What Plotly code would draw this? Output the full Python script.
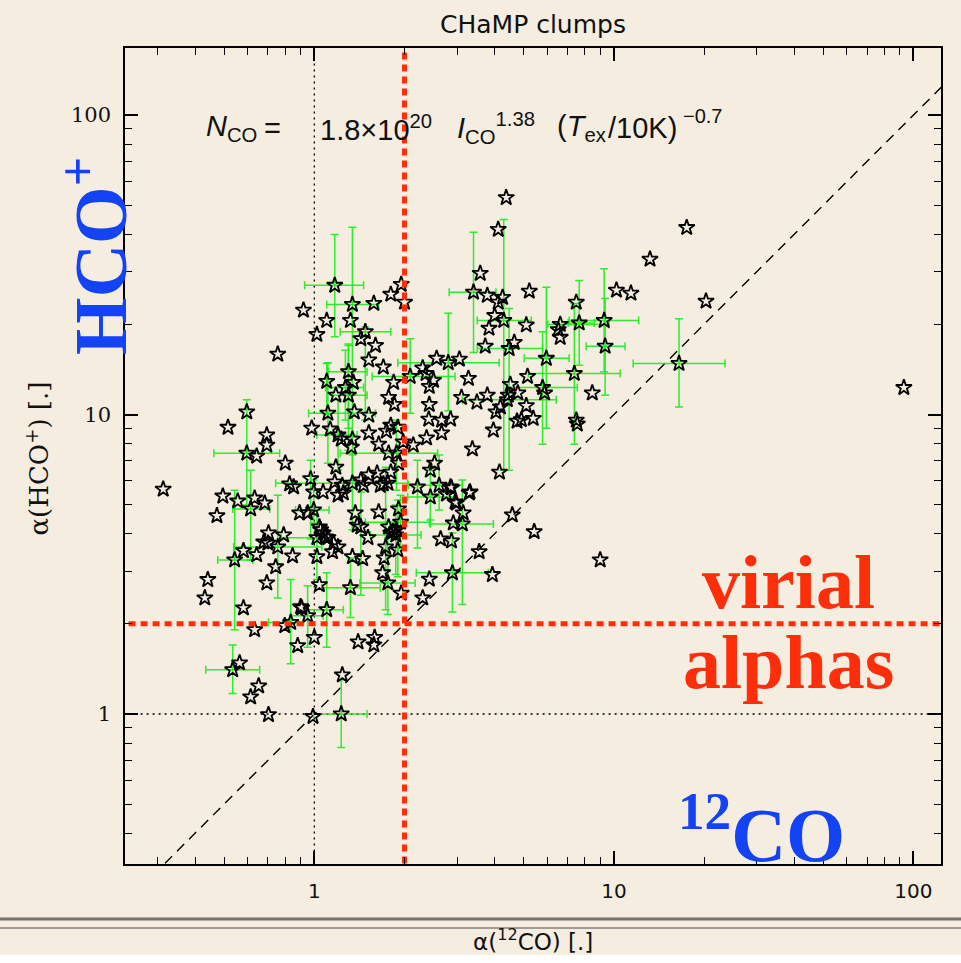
import plotly.graph_objects as go

# ---------------- data ----------------
alpha_12co = [
    4.37, 4.11, 17.5, 13.2, 3.58, 3.40, 3.78, 4.25, 4.11, 5.22, 10.2, 11.4, 20.3, 7.49, 4.00,
    4.29, 3.83, 5.10, 6.62, 6.52, 6.62, 7.66, 9.28, 9.35, 16.5, 4.65, 3.72, 4.47, 5.95, 7.38,
    5.15, 5.78, 5.87, 4.51, 4.78, 4.41, 4.44, 5.10, 3.78, 3.49, 3.10, 3.27, 4.18, 4.04, 4.75,
    4.91, 5.38, 3.96, 7.49, 7.55, 8.47, 3.37, 4.15, 3.29, 2.56, 2.80, 3.05, 1.70, 2.09, 2.30,
    2.36, 2.50, 2.42, 1.84, 2.42, 1.77, 1.85, 2.41, 2.66, 2.85, 1.80, 1.90, 2.66, 2.37, 2.14,
    1.98, 1.77, 1.88, 1.91, 1.80, 2.52, 2.44, 1.70, 2.21, 2.61, 2.85, 2.76, 2.44, 92.9, 1.17,
    1.34, 1.58, 1.80, 1.95, 2.00, 0.92, 1.10, 1.32, 1.02, 1.48, 1.43, 1.60, 0.755, 1.52, 1.30,
    1.10, 1.27, 1.35, 1.18, 1.30, 0.595, 1.11, 1.36, 1.52, 0.515, 0.98, 1.13, 1.20, 1.23, 1.34,
    1.33, 1.52, 0.694, 0.694, 0.595, 0.642, 0.80, 1.18, 1.74, 1.64, 0.313, 0.827, 0.853, 0.972, 0.995,
    1.07, 1.17, 1.24, 1.34, 1.43, 1.52, 1.62, 1.66, 1.76, 1.46, 1.25, 1.20, 0.495, 0.555, 0.632,
    0.683, 0.473, 0.613, 0.542, 0.755, 0.703, 0.79, 0.678, 0.70, 0.58, 0.642, 0.846, 0.743, 0.893, 0.95,
    0.995, 1.04, 1.07, 1.02, 1.11, 1.16, 1.20, 1.15, 1.02, 1.34, 1.45, 0.441, 0.431, 0.694, 1.04,
    1.32, 1.76, 1.95, 0.58, 0.907, 0.95, 1.10, 0.834, 0.797, 0.632, 1.00, 0.88, 1.40, 1.59, 1.58,
    0.534, 0.563, 0.652, 0.613, 0.703, 0.99, 1.23, 1.24, 2.98, 3.14, 2.87, 2.91, 3.12, 2.64, 2.87,
    4.58, 5.42, 9.00, 3.55, 2.89, 3.93, 2.42, 2.30, 1.91, 1.94, 1.88, 1.80, 1.73, 1.90, 1.71,
    1.69, 1.05, 1.09, 1.39, 1.43, 1.77, 1.83, 1.87, 1.51, 0.90, 1.37, 1.64, 3.31, 2.95,
]
alpha_hco = [
    53.0, 41.5, 42.1, 33.0, 29.6, 25.6, 25.0, 24.6, 23.7, 25.8, 26.0, 25.4, 23.9, 23.7, 21.4,
    20.6, 19.4, 19.9, 20.0, 19.2, 18.1, 20.2, 20.6, 16.9, 14.8, 17.4, 16.9, 16.6, 15.4, 13.7,
    13.4, 12.3, 11.8, 12.6, 11.8, 11.2, 11.6, 10.7, 11.6, 11.0, 11.4, 13.2, 10.6, 10.2, 9.50,
    9.60, 9.70, 8.87, 9.57, 9.29, 11.8, 7.67, 6.42, 5.47, 15.4, 14.9, 15.3, 14.4, 13.4, 14.3,
    13.7, 13.0, 12.4, 12.8, 10.8, 11.4, 10.8, 9.65, 9.57, 9.65, 9.20, 9.06, 8.68, 8.35, 7.90,
    8.10, 7.43, 7.43, 6.88, 6.42, 6.88, 6.52, 5.86, 5.73, 5.80, 5.73, 5.42, 5.30, 12.3, 27.0,
    23.3, 23.5, 25.2, 27.2, 23.7, 22.3, 20.6, 20.6, 18.5, 18.9, 17.9, 17.0, 15.9, 15.2, 13.9,
    12.9, 12.3, 12.8, 11.6, 11.6, 10.2, 10.1, 10.2, 9.95, 9.06, 9.00, 8.94, 8.54, 8.27, 8.27,
    7.78, 8.68, 8.54, 7.90, 7.43, 7.26, 6.88, 6.67, 8.80, 7.96, 5.63, 5.86, 5.73, 6.10, 5.51,
    5.51, 5.95, 5.80, 5.90, 6.04, 6.28, 6.37, 5.80, 5.90, 5.80, 5.47, 5.38, 5.34, 5.14, 5.26,
    5.06, 4.59, 4.84, 3.27, 3.61, 4.02, 3.96, 3.75, 3.72, 3.51, 3.40, 3.37, 3.10, 4.69, 4.69,
    4.80, 4.21, 4.02, 3.88, 3.88, 3.72, 3.61, 3.48, 3.35, 3.35, 3.30, 2.81, 2.44, 2.74, 2.70,
    2.64, 2.74, 2.53, 2.26, 2.26, 2.13, 2.23, 2.02, 1.97, 1.91, 1.80, 1.69, 1.74, 1.80, 1.70,
    1.405, 1.48, 1.24, 1.14, 0.995, 0.98, 1.00, 1.35, 5.06, 4.69, 5.69, 4.34, 4.31, 3.84, 3.78,
    4.62, 4.06, 3.27, 3.48, 2.96, 2.92, 2.82, 2.44, 4.84, 4.37, 4.12, 4.02, 3.61, 3.53, 3.32,
    2.96, 4.12, 3.90, 4.27, 4.21, 4.21, 4.06, 3.96, 3.88, 2.28, 4.69, 4.73, 5.51, 5.10,
]

# clumps with uncertainty bars: centre value and lower / upper bounds (None = no bar)
eb_12co = [1.17, 1.34, 1.48, 2.09, 2.80, 3.40, 4.29, 4.47, 5.95, 7.38, 5.78, 6.62, 7.66, 9.28,
           9.35, 16.5, 4.41, 0.595, 0.613, 0.542, 0.755, 0.995, 1.32, 1.76, 0.95, 1.10, 0.834,
           0.534, 1.23, 2.89, 3.12, 1.11, 1.27, 1.30, 1.20, 1.88, 1.34, 2.61, 2.44, 1.94, 1.87,
           1.02, 1.43, 1.73, 1.90, 2.21, 1.30, 0.972, 1.10]
eb_hco = [27.0, 23.3, 18.9, 13.4, 14.9, 25.6, 20.6, 16.6, 15.4, 13.7, 12.3, 20.0, 20.2, 20.6,
          16.9, 14.8, 11.2, 7.43, 4.84, 3.27, 3.61, 4.80, 2.64, 2.74, 2.13, 2.23, 2.02,
          1.405, 1.00, 2.96, 4.31, 10.1, 12.3, 11.6, 8.54, 7.43, 5.90, 5.80, 5.30, 4.37, 3.96,
          3.88, 4.21, 3.61, 3.53, 5.73, 13.9, 6.10, 12.9]
eb_12co_lo = [0.928, 1.10, 1.22, 1.56, 1.90, 2.82, 3.50, 3.50, 5.02, 5.18, 4.41, 6.02, 7.04, 7.09,
              8.08, 11.6, 3.12, 0.462, 0.534, 0.476, 0.538, 0.866, 1.06, 1.42, 0.834, 0.95, 0.703,
              0.434, 0.995, 2.19, 2.44, 0.957, 1.09, 1.15, 1.02, 1.22, 0.743, 2.06, 2.05, 1.48, 1.54,
              0.773, None, None, None, None, 1.11, None, None]
eb_12co_hi = [1.46, 1.64, 1.80, 2.95, 4.14, 4.04, 5.30, 5.78, 7.09, 10.5, 7.55, 9.63, 8.60, 12.1,
              10.9, 23.5, 6.42, 0.766, 0.710, 0.623, 1.06, 1.12, 1.66, 2.17, 1.07, 1.25, 0.92,
              0.657, 1.50, 3.81, 3.96, 1.60, 1.46, 1.50, 1.39, 2.58, 2.05, 3.12, 2.95, 2.42, 2.27,
              1.06, None, None, None, None, 1.50, None, None]
eb_hco_lo = [18.2, 6.04, 9.58, 10.1, 10.3, 16.1, 6.52, 6.52, 9.00, 7.96, 7.96, None, 14.6, 13.9,
             11.6, 10.6, None, 4.99, 3.27, 1.91, 2.44, 4.34, 2.10, 2.15, 1.67, 1.67, 1.47,
             1.17, 0.773, 2.19, 2.32, 6.88, 9.58, 7.60, 6.52, 5.59, 4.12, 4.80, 4.44, 3.58, 2.92,
             2.81, 2.49, 2.23, 2.87, 3.58, 9.00, 3.84, 10.0]
eb_hco_hi = [39.9, 42.2, 19.6, 17.9, 21.8, 40.6, 44.8, 22.6, 26.6, 23.5, 18.9, None, 28.0, 30.7,
             24.4, 20.9, None, 11.2, 6.52, 5.59, 5.38, 6.04, 3.32, 3.88, 2.68, 2.96, 2.81,
             1.70, 1.30, 4.02, 6.04, 14.9, 16.4, 17.0, 11.2, 9.58, 7.33, 7.33, 6.52, 5.38, 4.99,
             4.80, 5.51, 6.67, 5.18, 7.04, 17.2, 7.04, 14.8]

virial_threshold = 2.0
unity = 1.0
line_span = [0.05, 1000.0]

# equation pieces (text), their left edges (paper fraction), vertical centres and sizes
equation_parts = [
    "<i>N</i><sub>CO</sub>",
    "=",
    "1.8×10<sup>20</sup>",
    "<i>I</i><sub>CO</sub><sup>1.38</sup>",
    "(<i>T</i><sub>ex</sub>",
    "/10K)",
    "−0.7",
]
equation_x = [0.0968, 0.1679, 0.2365, 0.4044, 0.5270, 0.5890, 0.6810]
equation_y = [0.902, 0.902, 0.902, 0.902, 0.902, 0.902, 0.917]
equation_size = [29, 29, 29, 29, 29, 29, 20]

# ---------------- styling ----------------
BG = "#F4EDE0"
RED = "#FF2E0A"
BLUE = "#1442F5"
GREEN = "rgba(25,235,25,0.9)"


def plus(c, hi):
    return [None if h is None else h - v for v, h in zip(c, hi)]


def minus(c, lo):
    return [None if l is None else v - l for v, l in zip(c, lo)]


fig = go.Figure()

# reference lines: alpha = 1 (dotted) and one-to-one (dashed)
fig.add_trace(go.Scatter(x=line_span, y=[unity, unity], mode="lines",
                         line=dict(color="black", width=1.3, dash="2px,4px"),
                         hoverinfo="skip", showlegend=False))
fig.add_trace(go.Scatter(x=[unity, unity], y=line_span, mode="lines",
                         line=dict(color="black", width=1.3, dash="2px,4px"),
                         hoverinfo="skip", showlegend=False))
fig.add_trace(go.Scatter(x=line_span, y=line_span, mode="lines",
                         line=dict(color="black", width=1.4, dash="10px,7px"),
                         hoverinfo="skip", showlegend=False))

# error bars
fig.add_trace(go.Scatter(
    x=eb_12co, y=eb_hco, mode="markers",
    marker=dict(size=1, opacity=0),
    error_x=dict(type="data", symmetric=False,
                 array=plus(eb_12co, eb_12co_hi), arrayminus=minus(eb_12co, eb_12co_lo),
                 color=GREEN, thickness=1.5, width=4),
    error_y=dict(type="data", symmetric=False,
                 array=plus(eb_hco, eb_hco_hi), arrayminus=minus(eb_hco, eb_hco_lo),
                 color=GREEN, thickness=1.5, width=4),
    hoverinfo="skip", showlegend=False))

# clumps
fig.add_trace(go.Scatter(
    x=alpha_12co, y=alpha_hco, mode="markers",
    marker=dict(symbol="star-open", size=12, color="black",
                line=dict(color="black", width=1.8)),
    showlegend=False))

# virial alpha = 2 thresholds (red dotted)
fig.add_trace(go.Scatter(x=[virial_threshold, virial_threshold], y=line_span, mode="lines",
                         line=dict(color=RED, width=5, dash="7px,5px"),
                         hoverinfo="skip", showlegend=False))
fig.add_trace(go.Scatter(x=line_span, y=[virial_threshold, virial_threshold], mode="lines",
                         line=dict(color=RED, width=5, dash="7px,5px"),
                         hoverinfo="skip", showlegend=False))

axis_common = dict(
    type="log", showline=True, linecolor="black", linewidth=1.5, mirror="allticks",
    ticks="inside", ticklen=13, tickwidth=1.5, tickcolor="black", dtick=1,
    minor=dict(ticks="inside", ticklen=7, tickwidth=1.2, tickcolor="black", dtick="D1"),
    showgrid=False, zeroline=False, ticklabelstandoff=8,
)

fig.update_layout(
    width=961, height=963,
    margin=dict(l=125, r=20, t=48, b=99),
    paper_bgcolor=BG, plot_bgcolor=BG,
    xaxis=dict(range=[-0.632, 2.092],
               tickfont=dict(family="DejaVu Sans", size=20, color="#111"), **axis_common),
    yaxis=dict(range=[-0.501, 2.224],
               tickfont=dict(family="DejaVu Serif", size=21, color="#111"), **axis_common),
    showlegend=False,
)

ann = []
ann.append(dict(text="CHaMP clumps", x=0.5, y=1.029, xref="paper", yref="paper",
                showarrow=False, xanchor="center", yanchor="middle",
                font=dict(family="DejaVu Sans", size=25, color="#111")))
for part, px, py, fs in zip(equation_parts, equation_x, equation_y, equation_size):
    ann.append(dict(text=part, x=px, y=py, xref="paper", yref="paper", showarrow=False,
                    xanchor="left", yanchor="middle",
                    font=dict(family="Liberation Sans", size=fs, color="#111")))
ann.append(dict(text="α(<sup>12</sup>CO) [.]", x=0.5, y=-0.093, xref="paper", yref="paper",
                showarrow=False, xanchor="center", yanchor="middle",
                font=dict(family="DejaVu Sans", size=23, color="#111")))
ann.append(dict(text="α(HCO<sup>+</sup>) [.]", x=-0.1066, y=0.497, xref="paper", yref="paper",
                showarrow=False, xanchor="center", yanchor="middle", textangle=-90,
                font=dict(family="DejaVu Serif", size=26, color="#111")))
ann.append(dict(text="<b>HCO<sup>+</sup></b>", x=-0.037, y=0.745, xref="paper", yref="paper",
                showarrow=False, xanchor="center", yanchor="middle", textangle=-90,
                font=dict(family="Liberation Serif", size=74, color=BLUE)))
ann.append(dict(text="<b>virial</b>", x=0.8137, y=0.3456, xref="paper", yref="paper",
                showarrow=False, xanchor="center", yanchor="middle",
                font=dict(family="Liberation Serif", size=76, color=RED)))
ann.append(dict(text="<b>alphas</b>", x=0.8137, y=0.2475, xref="paper", yref="paper",
                showarrow=False, xanchor="center", yanchor="middle",
                font=dict(family="Liberation Serif", size=76, color=RED)))
ann.append(dict(text="<b><sup>12</sup>CO</b>", x=0.7806, y=0.042, xref="paper", yref="paper",
                showarrow=False, xanchor="center", yanchor="middle",
                font=dict(family="Liberation Serif", size=76, color=BLUE)))
fig.update_layout(annotations=ann)

# slide decoration: stitched double line and white strip at the bottom
shapes = [
    dict(type="line", xref="paper", yref="paper", x0=-0.16, x1=1.03, y0=-0.0674, y1=-0.0674,
         line=dict(color="rgba(90,90,90,0.85)", width=3)),
    dict(type="line", xref="paper", yref="paper", x0=-0.16, x1=1.03, y0=-0.0784, y1=-0.0784,
         line=dict(color="rgba(120,120,120,0.7)", width=2)),
    dict(type="rect", xref="paper", yref="paper", x0=-0.16, x1=1.03, y0=-0.1115, y1=-0.13,
         fillcolor="white", line=dict(width=0), layer="below"),
]
fig.update_layout(shapes=shapes)

fig.write_html("out.html", config={"displayModeBar": False},
               post_script="document.body.style.margin='0';")
